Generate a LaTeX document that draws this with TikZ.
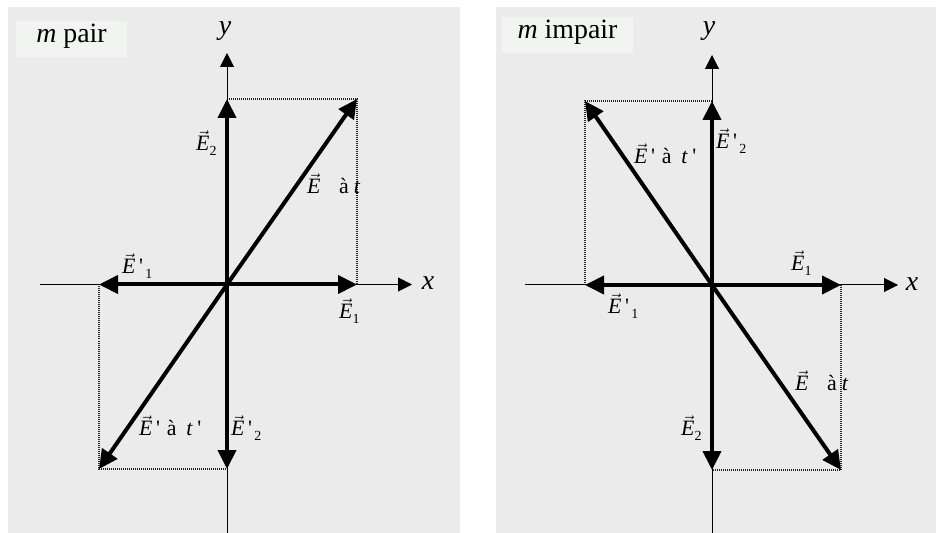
\documentclass[tikz,border=0pt]{standalone}
\usepackage{fontspec}
\setmainfont{Liberation Serif}
\usetikzlibrary{arrows.meta}
\definecolor{panelgray}{HTML}{EBEBEB}
\definecolor{boxfill}{HTML}{F1F4F0}
\newcommand{\vE}{$\vec{\hbox{\itshape E}}$}
\newcommand{\subn}[1]{\raisebox{-0.5ex}{\fontsize{14}{14}\selectfont #1}}
\newcommand{\pr}{\textquotesingle}
\tikzset{
  vecarrow/.style={line width=4bp,-{Triangle[length=19bp,width=18bp]}},
  axisline/.style={line width=1bp,-{Triangle[length=14bp,width=14bp]}},
  dotline/.style={line width=1.1bp,dash pattern=on 1bp off 1bp,black!85},
  lbl/.style={inner sep=0pt,anchor=west,font=\fontsize{22}{22}\selectfont},
  axlbl/.style={inner sep=0pt,font=\fontsize{28}{28}\selectfont\itshape},
  titlebox/.style={fill=boxfill,draw=none},
  titletxt/.style={inner sep=0pt,anchor=base,font=\fontsize{28}{28}\selectfont}
}
\begin{document}
\begin{tikzpicture}[x=1bp,y=-1bp]
\useasboundingbox (0,0) rectangle (936,533);
\fill[white] (0,0) rectangle (936,533);
\fill[panelgray] (8,7) rectangle (460,533);
\fill[panelgray] (496,7) rectangle (936,533);
% ---------- left panel : m pair ----------
\fill[titlebox] (16,21) rectangle (127,57);
\node[titletxt] (tL) at (71.5,43) {\textit{m} pair};
\coordinate (OL) at (227,284.5);
\coordinate (xaL0) at (40,284.5);
\coordinate (xaL1) at (412,284.5);
\coordinate (yaL0) at (227,533);
\coordinate (yaL1) at (227,53);
\coordinate (E1L) at (357,284.5);
\coordinate (Ep1L) at (99,284.5);
\coordinate (E2L) at (227,99);
\coordinate (Ep2L) at (227,469);
\coordinate (EL) at (357,99);
\coordinate (EpL) at (99,469);
\draw[dotline] (E2L) -- (EL) -- (E1L);
\draw[dotline] (Ep1L) -- (EpL) -- (Ep2L);
\draw[axisline] (xaL0) -- (xaL1);
\draw[axisline] (yaL0) -- (yaL1);
\node[axlbl] (xL) at (428,283) {x};
\node[axlbl] (yL) at (225,31) {y};
\draw[vecarrow] (OL) -- (E1L);
\draw[vecarrow] (OL) -- (Ep1L);
\draw[vecarrow] (OL) -- (E2L);
\draw[vecarrow] (OL) -- (Ep2L);
\draw[vecarrow] (OL) -- (EL);
\draw[vecarrow] (OL) -- (EpL);
\node[lbl] (lE2L) at (196,143) {\vE\subn{2}};
\node[lbl] (lEL) at (307,184) {\vE\hspace{0.85em}à\hspace{0.22em}\textit{t}};
\node[lbl] (lEp1L) at (122,266) {\vE\,\pr\hspace{0.1em}\subn{1}};
\node[lbl] (lE1L) at (339,311) {\vE\subn{1}};
\node[lbl] (lEpL) at (139,426) {\vE\,\pr\hspace{0.3em}à\hspace{0.45em}\textit{t}\hspace{0.2em}\pr};
\node[lbl] (lEp2L) at (231,428) {\vE\,\pr\hspace{0.1em}\subn{2}};
% ---------- right panel : m impair ----------
\fill[titlebox] (502,17) rectangle (633,53);
\node[titletxt] (tR) at (567.5,39) {\textit{m} impair};
\coordinate (OR) at (712,285);
\coordinate (xaR0) at (525,285);
\coordinate (xaR1) at (898,285);
\coordinate (yaR0) at (712,533);
\coordinate (yaR1) at (712,55);
\coordinate (E1R) at (841,285);
\coordinate (Ep1R) at (585,285);
\coordinate (Ep2R) at (712,101);
\coordinate (E2R) at (712,470);
\coordinate (ER) at (841,470);
\coordinate (EpR) at (585,101);
\draw[dotline] (Ep1R) -- (EpR) -- (Ep2R);
\draw[dotline] (E1R) -- (ER) -- (E2R);
\draw[axisline] (xaR0) -- (xaR1);
\draw[axisline] (yaR0) -- (yaR1);
\node[axlbl] (xR) at (912,284) {x};
\node[axlbl] (yR) at (709,31) {y};
\draw[vecarrow] (OR) -- (E1R);
\draw[vecarrow] (OR) -- (Ep1R);
\draw[vecarrow] (OR) -- (E2R);
\draw[vecarrow] (OR) -- (Ep2R);
\draw[vecarrow] (OR) -- (ER);
\draw[vecarrow] (OR) -- (EpR);
\node[lbl] (lEpR) at (634,154) {\vE\,\pr\hspace{0.3em}à\hspace{0.45em}\textit{t}\hspace{0.2em}\pr};
\node[lbl] (lEp2R) at (716,141) {\vE\,\pr\hspace{0.1em}\subn{2}};
\node[lbl] (lE1R) at (791,263) {\vE\subn{1}};
\node[lbl] (lEp1R) at (608,306) {\vE\,\pr\hspace{0.1em}\subn{1}};
\node[lbl] (lER) at (795,381) {\vE\hspace{0.85em}à\hspace{0.22em}\textit{t}};
\node[lbl] (lE2R) at (681,428) {\vE\subn{2}};
\end{tikzpicture}
\end{document}
